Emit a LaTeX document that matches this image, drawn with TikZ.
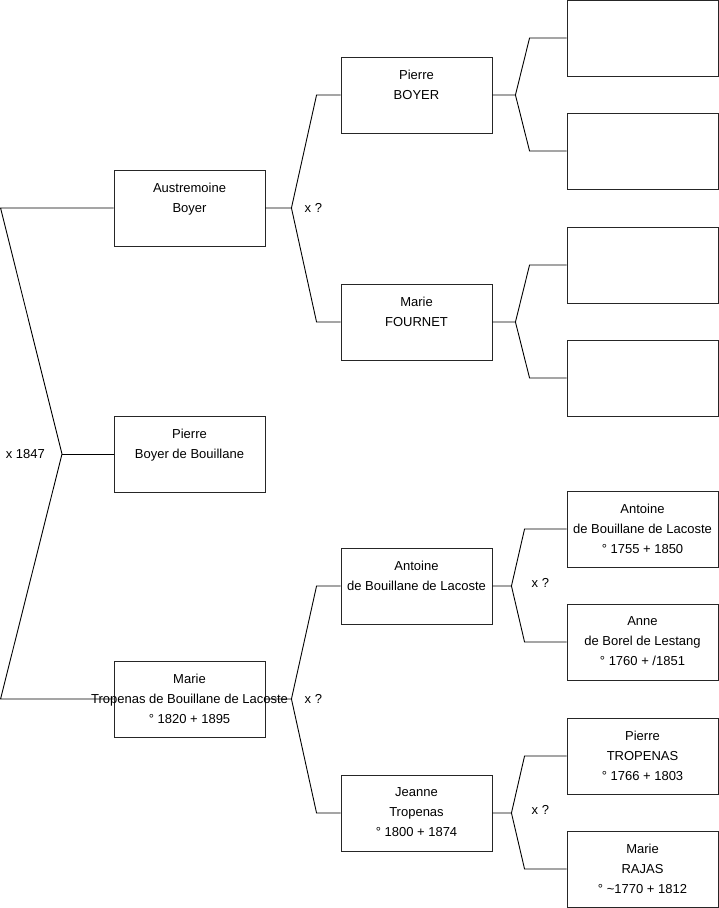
\documentclass[tikz,border=0pt]{standalone}
\usepackage{fontspec}
\setmainfont{Liberation Sans}
\usetikzlibrary{positioning}

\tikzset{
  person/.style={draw=black!85, line width=0.9pt, minimum width=151pt, minimum height=76pt, inner sep=0pt},
  who/.style={font=\fontsize{13}{20}\selectfont, align=center, inner sep=0pt},
  link/.style={draw=black, line width=0.9pt},
  wed/.style={font=\fontsize{13}{16}\selectfont, inner sep=0pt}
}

\begin{document}
\begin{tikzpicture}[x=1pt, y=-1pt]
\useasboundingbox (0,0) rectangle (719,908);
% generation 1
\node[person] (aus) at (189.5,208) {};
\node[person] (pie) at (189.5,454) {};
\node[person] (mar) at (189.5,699) {};
% generation 2
\node[person] (pbo) at (416.5,95) {};
\node[person] (mfo) at (416.5,322) {};
\node[person] (ant) at (416.5,586) {};
\node[person] (jea) at (416.5,813) {};
% generation 3
\node[person] (e1) at (642.5,38) {};
\node[person] (e2) at (642.5,151) {};
\node[person] (e3) at (642.5,265) {};
\node[person] (e4) at (642.5,378) {};
\node[person] (abl) at (642.5,529) {};
\node[person] (abo) at (642.5,642) {};
\node[person] (ptr) at (642.5,756) {};
\node[person] (mra) at (642.5,869) {};
% names
\node[who, below=13pt of aus.north] (aus-t) {Austremoine\\Boyer};
\node[who, below=13pt of pie.north] (pie-t) {Pierre\\Boyer de Bouillane};
\node[who, below=13pt of mar.north] (mar-t) {Marie\\Tropenas de Bouillane de Lacoste\\° 1820 + 1895};
\node[who, below=13pt of pbo.north] (pbo-t) {Pierre\\BOYER};
\node[who, below=13pt of mfo.north] (mfo-t) {Marie\\FOURNET};
\node[who, below=13pt of ant.north] (ant-t) {Antoine\\de Bouillane de Lacoste};
\node[who, below=13pt of jea.north] (jea-t) {Jeanne\\Tropenas\\° 1800 + 1874};
\node[who, below=13pt of abl.north] (abl-t) {Antoine\\de Bouillane de Lacoste\\° 1755 + 1850};
\node[who, below=13pt of abo.north] (abo-t) {Anne\\de Borel de Lestang\\° 1760 + /1851};
\node[who, below=13pt of ptr.north] (ptr-t) {Pierre\\TROPENAS\\° 1766 + 1803};
\node[who, below=13pt of mra.north] (mra-t) {Marie\\RAJAS\\° \textasciitilde1770 + 1812};
% children of the 1847 marriage
\coordinate (v0) at (62,454);
\draw[link] (aus.west) -- ([xshift=-113pt]aus.west) -- (v0) -- ([xshift=-113pt]mar.west) -- (mar.west);
\draw[link] (v0) -- (pie.west);
\node[wed, left=17pt of v0] (w0) {x 1847};
% parents
\draw[link] (aus.east) -- ++(26,0) coordinate (v1) -- ([xshift=-24pt]pbo.west) -- (pbo.west);
\draw[link] (v1) -- ([xshift=-24pt]mfo.west) -- (mfo.west);
\node[wed, right=13pt of v1] (w1) {x ?};
\draw[link] (mar.east) -- ++(26,0) coordinate (v2) -- ([xshift=-24pt]ant.west) -- (ant.west);
\draw[link] (v2) -- ([xshift=-24pt]jea.west) -- (jea.west);
\node[wed, right=13pt of v2] (w2) {x ?};
% grandparents
\draw[link] (pbo.east) -- ++(23,0) coordinate (v3) -- ([xshift=-37pt]e1.west) -- (e1.west);
\draw[link] (v3) -- ([xshift=-37pt]e2.west) -- (e2.west);
\draw[link] (mfo.east) -- ++(23,0) coordinate (v4) -- ([xshift=-37pt]e3.west) -- (e3.west);
\draw[link] (v4) -- ([xshift=-37pt]e4.west) -- (e4.west);
\draw[link] (ant.east) -- ++(19,0) coordinate (v5) -- ([xshift=-42pt]abl.west) -- (abl.west);
\draw[link] (v5) -- ([xshift=-42pt]abo.west) -- (abo.west);
\node[wed, right=20pt of v5, yshift=3pt] (w5) {x ?};
\draw[link] (jea.east) -- ++(19,0) coordinate (v6) -- ([xshift=-42pt]ptr.west) -- (ptr.west);
\draw[link] (v6) -- ([xshift=-42pt]mra.west) -- (mra.west);
\node[wed, right=20pt of v6, yshift=3pt] (w6) {x ?};
\end{tikzpicture}
\end{document}
